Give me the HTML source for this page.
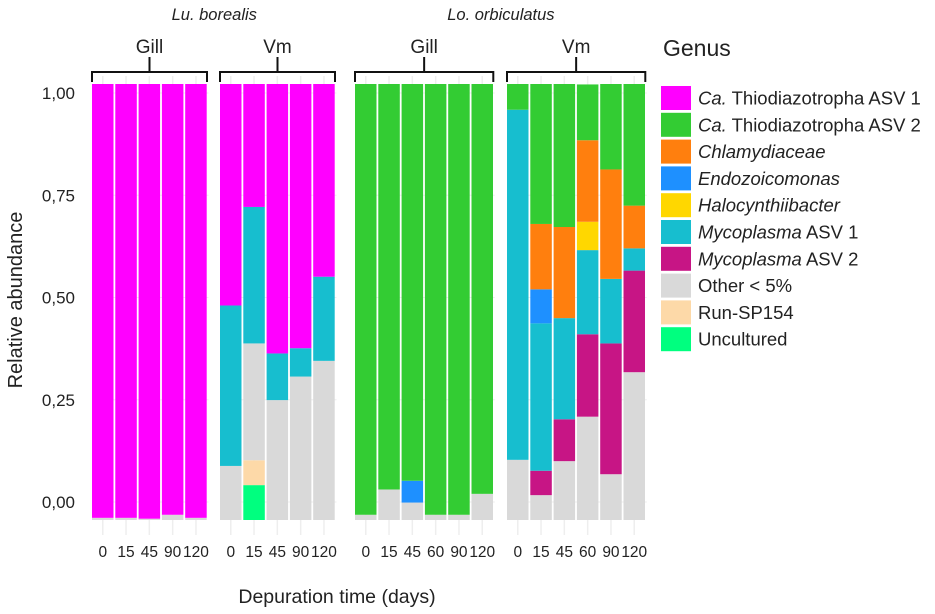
<!DOCTYPE html>
<html><head><meta charset="utf-8"><style>
body{margin:0;background:#fff;font-family:"Liberation Sans",sans-serif;}
svg{display:block}
text{fill:#222}
</style></head><body>
<svg width="935" height="614">
<g id="grid"></g>
<g id="bars"></g>
<g id="axes"></g>
<g id="legend"></g>
</svg>
<script>
const genera = ["Ca. Thiodiazotropha ASV 1","Ca. Thiodiazotropha ASV 2","Chlamydiaceae","Endozoicomonas","Halocynthiibacter","Mycoplasma ASV 1","Mycoplasma ASV 2","Other < 5%","Run-SP154","Uncultured"];
const colors = ["#ff00ff","#33cc33","#ff7f0e","#1e90ff","#ffd700","#17becf","#c71585","#d9d9d9","#fdd9a8","#00ff7f"];
const yTicks = [0,0.25,0.5,0.75,1];
const yTickLabels = ["0,00","0,25","0,50","0,75","1,00"];
const panelSpecies = ["Lu. borealis","Lu. borealis","Lo. orbiculatus","Lo. orbiculatus"];
const panelTissue = ["Gill","Vm","Gill","Vm"];
const luTimes = ["0","15","45","90","120"];
const loTimes = ["0","15","45","60","90","120"];
// stacks from bottom: [genusIndex, fraction]
const p1 = [[[7,0.005],[0,0.995]],[[7,0.005],[0,0.995]],[[7,0.003],[0,0.997]],[[7,0.012],[0,0.988]],[[7,0.005],[0,0.995]]];
const p2 = [[[7,0.124],[5,0.368],[0,0.508]],[[9,0.080],[8,0.057],[7,0.268],[5,0.313],[0,0.282]],[[7,0.275],[5,0.107],[0,0.618]],[[7,0.329],[5,0.065],[0,0.606]],[[7,0.365],[5,0.193],[0,0.442]]];
const p3 = [[[7,0.012],[1,0.988]],[[7,0.07],[1,0.93]],[[7,0.04],[3,0.05],[1,0.91]],[[7,0.012],[1,0.988]],[[7,0.012],[1,0.988]],[[7,0.06],[1,0.94]]];
const p4 = [[[7,0.138],[5,0.803],[1,0.059]],[[7,0.057],[6,0.056],[5,0.338],[3,0.078],[2,0.150],[1,0.321]],[[7,0.135],[6,0.096],[5,0.232],[2,0.209],[1,0.328]],[[7,0.237],[6,0.189],[5,0.193],[4,0.065],[2,0.187],[1,0.128]],[[7,0.105],[6,0.300],[5,0.148],[2,0.251],[1,0.196]],[[7,0.339],[6,0.233],[5,0.051],[2,0.098],[1,0.279]]];
const panels = [p1,p2,p3,p4];
const panelX = [92,220,355,507];
const step = 23.3, barW = 21.5;
const barTop = 84, barBot = 520;
const NS="http://www.w3.org/2000/svg";
function mk(tag,attrs,parent){const e=document.createElementNS(NS,tag);for(const k in attrs)e.setAttribute(k,attrs[k]);parent.appendChild(e);return e;}
const yBar = f => barBot - f*(barBot-barTop);
const yTick = v => 502 - v*409;
const grid=document.getElementById('grid'), bars=document.getElementById('bars'), axes=document.getElementById('axes'), legend=document.getElementById('legend');
panels.forEach((p,pi)=>{
  const x0=panelX[pi], w=p.length*step;
  const times = p.length===5?luTimes:loTimes;
  yTicks.forEach(v=>{const l=mk('line',{x1:x0,x2:x0+w,y1:yTick(v),y2:yTick(v),stroke:'#eeeeee','stroke-width':1},grid);
    
    });
  p.forEach((stack,bi)=>{
    const bx=x0+bi*step+ (step-barW)/2 - 0.9;
    const cx=bx+barW/2;
    const gl=mk('line',{x1:cx,x2:cx,y1:76,y2:535,stroke:'#eeeeee','stroke-width':1.5},grid);
    
    
    let cum=0;
    stack.forEach(([g,f])=>{
      const r=mk('rect',{x:bx,y:yBar(cum+f),width:barW,height:yBar(cum)-yBar(cum+f),fill:colors[g]},bars);
      
      
      cum+=f;
    });
    const t=mk('text',{x:cx,y:557,'text-anchor':'middle','font-size':15.5},axes);t.textContent=times[bi];
    
    
  });
  const xe=x0+w-1.5, xm=(x0+xe)/2;
  const br=mk('path',{d:`M${x0},82V72H${xe}V82M${xm},72V57`,fill:'none',stroke:'#111','stroke-width':2},axes);
  
  
  const tt=mk('text',{x:xm,y:53,'text-anchor':'middle','font-size':19},axes);tt.textContent=panelTissue[pi];
  
  
  if(pi%2===0){
    const sx=(x0+panelX[pi+1]+panels[pi+1].length*step)/2;
    const st=mk('text',{x:sx,y:20,'text-anchor':'middle','font-size':16.5,'font-style':'italic'},axes);st.textContent=panelSpecies[pi];
    
    
  }
});
yTicks.forEach((v,i)=>{const t=mk('text',{x:75,y:yTick(v)+6,'text-anchor':'end','font-size':17},axes);t.textContent=yTickLabels[i];
  
  });
const yt=mk('text',{x:0,y:0,transform:'translate(22,300) rotate(-90)','text-anchor':'middle','font-size':20},axes);yt.textContent='Relative abundance';


const xt=mk('text',{x:337,y:603,'text-anchor':'middle','font-size':19.5},axes);xt.textContent='Depuration time (days)';


const lt=mk('text',{x:663,y:56,'font-size':23},legend);lt.textContent='Genus';


genera.forEach((g,i)=>{
  const y=86+i*26.8;
  const r=mk('rect',{x:661,y:y,width:30,height:24,fill:colors[i]},legend);
  
  
  const t=mk('text',{x:698,y:y+18.5,'font-size':18.5},legend);
  
  
  if(g.startsWith('Ca. ')){const a=mk('tspan',{'font-style':'italic'},t);a.textContent='Ca.';const b=mk('tspan',{},t);b.textContent=' '+g.slice(4);}
  else if(g.startsWith('Mycoplasma')){const a=mk('tspan',{'font-style':'italic'},t);a.textContent='Mycoplasma';const b=mk('tspan',{},t);b.textContent=g.slice(10);}
  else if(i>=2&&i<=4){t.setAttribute('font-style','italic');t.textContent=g;}
  else t.textContent=g;
});
</script>
</body></html>
